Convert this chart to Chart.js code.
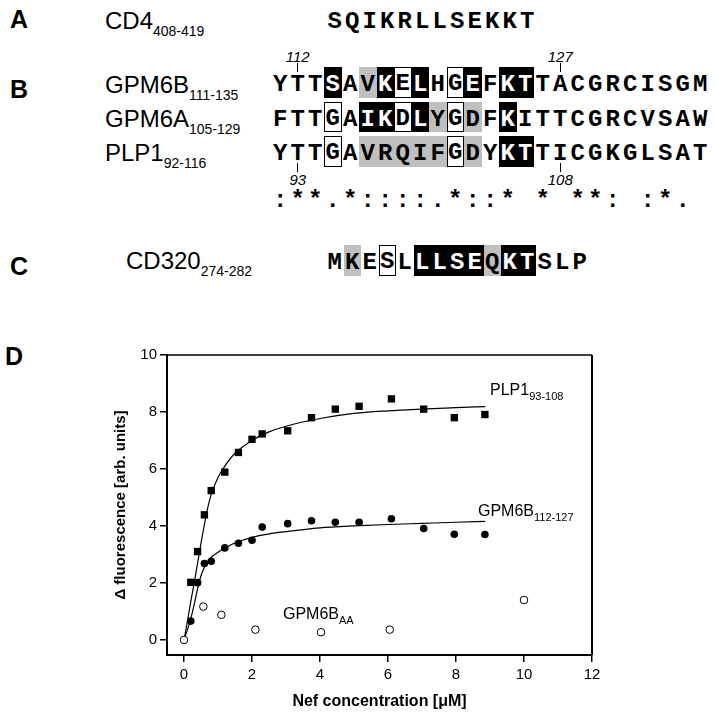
<!DOCTYPE html>
<html><head><meta charset="utf-8">
<script src="https://cdn.jsdelivr.net/npm/chart.js@4.4.0/dist/chart.umd.min.js"></script>
<style>
body{margin:0;background:#fff;width:716px;height:715px;overflow:hidden;position:relative;font-family:"Liberation Sans",Arial,sans-serif;color:#000}
.abs{position:absolute;white-space:nowrap;line-height:1}
.panel{font-weight:bold;font-size:25px}
.lab{font-size:24px}
.lab sub{font-size:14px;vertical-align:-7px;line-height:1}
.cell{position:absolute;width:17.5px;height:30.5px;text-align:center;font-family:"Liberation Mono","Courier New",monospace;font-weight:bold;font-size:24px;line-height:35px;box-sizing:border-box}
.b{background:#000;color:#fff}
.g{background:#bfbfbf}
.o{border:1.5px solid #000;background:#fff;line-height:32px}
.num{position:absolute;font-style:italic;font-size:15px;line-height:1;transform:translateX(-50%)}
.tk{position:absolute;width:1px;background:#000}
.ann{position:absolute;font-size:16px;line-height:1;white-space:nowrap}
.ann sub{font-size:11px;vertical-align:-5px;line-height:1}
#wrap{position:absolute;left:0;top:330px;width:716px;height:385px}
</style></head>
<body>
<div class="abs panel" style="left:10px;top:7px">A</div>
<div class="abs lab" style="left:105px;top:9px">CD4<sub>408-419</sub></div>
<div class="abs panel" style="left:10px;top:77px">B</div>
<div class="abs lab" style="left:105px;top:73px">GPM6B<sub>111-135</sub></div>
<div class="abs lab" style="left:105px;top:107px">GPM6A<sub>105-129</sub></div>
<div class="abs lab" style="left:105px;top:141px">PLP1<sub>92-116</sub></div>
<div class="abs panel" style="left:10px;top:254px">C</div>
<div class="abs lab" style="left:126px;top:249px">CD320<sub>274-282</sub></div>
<div class="abs panel" style="left:5px;top:344px">D</div>
<div id="seqs"></div>
<div id="wrap"><canvas id="c" width="716" height="385"></canvas></div>
<div class="ann" style="left:490px;top:382px">PLP1<sub>93-108</sub></div>
<div class="ann" style="left:478px;top:503px">GPM6B<sub>112-127</sub></div>
<div class="ann" style="left:283px;top:606px">GPM6B<sub>AA</sub></div>
<script>
// ---- sequence panel data ----
const seqCD4 = "SQIKRLLSEKKT";
const hlCD4  = "............";
const seqGPM6B = "YTTSAVKELHGEFKTTACGRCISGM";
const hlGPM6B  = "...b.gbob.ob.bb..........";
const seqGPM6A = "FTTGAIKDLYGDFKITTCGRCVSAW";
const hlGPM6A  = "...o.bbobgog.b...........";
const seqPLP1  = "YTTGAVRQIFGDYKTTICGKGLSAT";
const hlPLP1   = "...o.gggggog.bb..........";
const consB    = ":**.*::::.*::* * **: :*. ";
const seqCD320 = "MKESLLLSEQKTSLP";
const hlCD320  = ".g.o.bbbbgbb...";
const numAbove = [["112",1],["127",16]];
const numBelow = [["93",1],["108",16]];

// ---- binding data (panel D) ----
const xTicks = [0,2,4,6,8,10,12];
const yTicks = [0,2,4,6,8,10];
const concPLP = [0.2,0.4,0.6,0.8,1.2,1.6,2.0,2.3,3.05,3.75,4.45,5.15,6.1,7.05,7.95,8.85];
const fluPLP  = [2.02,3.1,4.39,5.24,5.89,6.58,7.04,7.23,7.34,7.80,8.10,8.20,8.46,8.10,7.80,7.91];
const concGPM = [0.2,0.4,0.6,0.8,1.2,1.6,2.0,2.3,3.05,3.75,4.45,5.15,6.1,7.05,7.95,8.85];
const fluGPM  = [0.66,2.01,2.68,2.76,3.23,3.39,3.50,3.96,4.08,4.18,4.13,4.13,4.25,3.91,3.71,3.70];
const concAA  = [0,0.57,1.1,2.1,4.03,6.05,10.0];
const fluAA   = [0,1.17,0.88,0.36,0.27,0.36,1.40];
const fitX    = [0,0.1,0.2,0.3,0.4,0.5,0.6,0.7,0.8,1.0,1.2,1.5,2.0,2.5,3.0,4.0,5.0,6.0,7.0,8.0,8.86];
const fitPLP  = [0,0.65,1.35,2.0,2.7,3.4,4.05,4.65,5.1,5.7,6.1,6.55,7.0,7.3,7.5,7.77,7.95,8.04,8.1,8.15,8.19];
const fitGPM  = [0,0.35,0.75,1.25,1.8,2.25,2.55,2.75,2.9,3.08,3.22,3.4,3.6,3.72,3.8,3.93,4.0,4.05,4.09,4.13,4.16];

// ---- build sequence cells ----
const CW = 17.5;
const host = document.getElementById('seqs');
function row(seq, hl, x0, top){
  for(let i=0;i<seq.length;i++){
    const d=document.createElement('div');
    const h=hl?hl[i]:'.';
    d.className='cell'+(h==='.'?'':' '+h);
    d.style.left=(x0+i*CW)+'px';
    d.style.top=top+'px';
    d.textContent=seq[i]===' '?'\u00a0':seq[i];
    host.appendChild(d);
  }
}
const xB=271.5, xAC=326;
row(seqCD4,hlCD4,xAC,4);
row(seqGPM6B,hlGPM6B,xB,67);
row(seqGPM6A,hlGPM6A,xB,101.5);
row(seqPLP1,hlPLP1,xB,136);
row(consB,null,xB,183);
row(seqCD320,hlCD320,xAC,245);
numAbove.forEach(([t,c])=>{
  const n=document.createElement('div');n.className='num';n.textContent=t;
  n.style.left=(xB+(c+0.5)*CW)+'px';n.style.top='49px';host.appendChild(n);
  const k=document.createElement('div');k.className='tk';
  k.style.left=(xB+(c+0.5)*CW-0.5)+'px';k.style.top='63px';k.style.height='9px';host.appendChild(k);
});
numBelow.forEach(([t,c])=>{
  const n=document.createElement('div');n.className='num';n.textContent=t;
  n.style.left=(xB+(c+0.5)*CW)+'px';n.style.top='172px';host.appendChild(n);
  const k=document.createElement('div');k.className='tk';
  k.style.left=(xB+(c+0.5)*CW-0.5)+'px';k.style.top='163px';k.style.height='9px';host.appendChild(k);
});

// ---- chart ----
const pts=(xs,ys)=>xs.map((x,i)=>({x:x,y:ys[i]}));
const frame={id:'frame',afterDraw(ch){
  const {ctx,chartArea:a}=ch;ctx.save();ctx.strokeStyle='#000';
  ctx.lineWidth=1.3;ctx.beginPath();ctx.moveTo(a.left,a.top);ctx.lineTo(a.right,a.top);ctx.stroke();
  ctx.lineWidth=2;ctx.beginPath();ctx.moveTo(a.right,a.top);ctx.lineTo(a.right,a.bottom);ctx.stroke();
  ctx.restore();}};
const tickFont={family:'"Liberation Sans", Arial, sans-serif',size:15};
new Chart(document.getElementById('c'),{
  type:'scatter',
  data:{datasets:[
    {type:'line',data:pts(fitX,fitPLP),borderColor:'#000',borderWidth:1.2,pointRadius:0,cubicInterpolationMode:'monotone',fill:false,order:3},
    {type:'line',data:pts(fitX,fitGPM),borderColor:'#000',borderWidth:1.2,pointRadius:0,cubicInterpolationMode:'monotone',fill:false,order:3},
    {label:'PLP1',data:pts(concPLP,fluPLP),pointStyle:'rect',pointRadius:5.2,backgroundColor:'#000',borderColor:'#000',borderWidth:0,order:1},
    {label:'GPM6B',data:pts(concGPM,fluGPM),pointStyle:'circle',pointRadius:3.8,backgroundColor:'#000',borderColor:'#000',borderWidth:0,order:1},
    {label:'GPM6B AA',data:pts(concAA,fluAA),pointStyle:'circle',pointRadius:3.8,backgroundColor:'#fff',borderColor:'#000',borderWidth:1,order:0}
  ]},
  options:{
    responsive:false,animation:false,
    layout:{padding:{left:0,right:124,top:25,bottom:0}},
    plugins:{legend:{display:false},tooltip:{enabled:false}},
    scales:{
      x:{type:'linear',min:-0.5,max:12,
        afterBuildTicks:s=>{s.ticks=xTicks.map(v=>({value:v}));},
        afterFit:s=>{s.height=60;},
        grid:{drawOnChartArea:false,tickLength:7,color:'#000',lineWidth:1.5},
        border:{display:true,color:'#000',width:2},
        ticks:{font:tickFont,color:'#000',padding:4,maxRotation:0},
        title:{display:true,text:'Nef concentration [\u03bcM]',color:'#000',font:{family:'"Liberation Sans", Arial, sans-serif',size:16,weight:'bold'},padding:{top:0,bottom:4}}
      },
      y:{type:'linear',min:-0.53,max:10,
        afterBuildTicks:s=>{s.ticks=yTicks.map(v=>({value:v}));},
        afterFit:s=>{s.width=167;},
        grid:{drawOnChartArea:false,tickLength:7,color:'#000',lineWidth:1.5},
        border:{display:true,color:'#000',width:2},
        ticks:{font:tickFont,color:'#000',padding:3},
        title:{display:true,text:'\u0394 fluorescence [arb. units]',color:'#000',font:{family:'"Liberation Sans", Arial, sans-serif',size:15,weight:'bold'},padding:{top:112,bottom:0}}
      }
    }
  },
  plugins:[frame]
});
</script>
</body></html>
